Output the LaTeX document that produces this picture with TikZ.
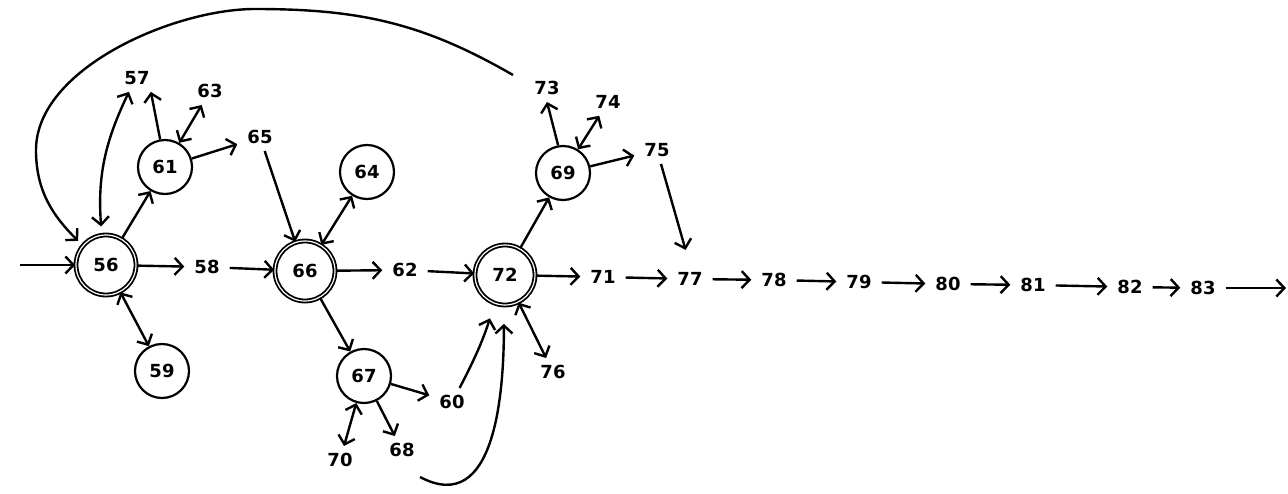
\documentclass[tikz,border=0pt]{standalone}
\usepackage{fontspec}
\setmainfont{DejaVu Sans}
\usetikzlibrary{arrows.meta}
\begin{document}
\begin{tikzpicture}[x=1pt,y=1pt, line width=2.4pt,
  font=\fontsize{18}{20}\selectfont\bfseries,
  circ/.style={circle,draw,line width=2.2pt,minimum size=54pt,inner sep=0pt},
  dcirc/.style={circle,draw,line width=1.8pt,double,double distance=1.2pt,minimum size=60pt,inner sep=0pt},
  lbl/.style={inner xsep=9pt,inner ysep=6pt},
  arr/.style={-{Straight Barb[length=8pt,width=17pt]}},
  arrb/.style={{Straight Barb[length=8pt,width=17pt]}-{Straight Barb[length=8pt,width=17pt]}}]
\fill[white] (0,0) rectangle (1288,-493);
\useasboundingbox (0,0) rectangle (1288,-493);
% nodes
\node[dcirc] (n56) at (106,-265) {56};
\node[circ] (n61) at (165,-167) {61};
\node[circ] (n59) at (162,-371) {59};
\node[lbl] (l57) at (137,-78) {57};
\node[lbl] (l63) at (210,-91) {63};
\node[lbl] (l65) at (260,-137) {65};
\node[lbl] (l58) at (207,-267) {58};
\node[dcirc] (n66) at (305,-271) {66};
\node[circ] (n64) at (367,-172) {64};
\node[lbl] (l62) at (405,-270) {62};
\node[circ] (n67) at (364,-376) {67};
\node[lbl] (l60) at (452,-402) {60};
\node[lbl] (l70) at (340,-460) {70};
\node[lbl] (l68) at (402,-450) {68};
\node[dcirc] (n72) at (505,-275) {72};
\node[circ] (n69) at (563,-173) {69};
\node[lbl] (l73) at (547,-88) {73};
\node[lbl] (l74) at (608,-102) {74};
\node[lbl] (l75) at (657,-150) {75};
\node[lbl] (l76) at (553,-372) {76};
\node[lbl] (l71) at (603,-277) {71};
\node[lbl] (l77) at (690,-279) {77};
\node[lbl] (l78) at (774,-280) {78};
\node[lbl] (l79) at (859,-282) {79};
\node[lbl] (l80) at (948,-284) {80};
\node[lbl] (l81) at (1033,-285) {81};
\node[lbl] (l82) at (1130,-287) {82};
\node[lbl] (l83) at (1203,-288) {83};
\coordinate (cin) at (20,-265);
\coordinate (cout) at (1286,-288);
\coordinate (c2) at (513,-75);
\coordinate (ctop) at (255,-9);
\coordinate (cleft) at (36,-150);
\coordinate (c1) at (420,-477);
% connectors
\draw[arr] (cin) -- (n56);
\draw[arr] (n56) -- (l58);
\draw[arr] (l58) -- (n66);
\draw[arrb, shorten <=8pt] (n56.98) to[bend left=15] (l57.240);
\draw[arr] (n61.100) -- (l57.-45);
\draw[arr] (n56) -- (n61);
\draw[arrb] (n61) -- (l63);
\draw[arr] (n61) -- (l65);
\draw[arr] (l65) -- (n66);
\draw[arrb] (n56) -- (n59);
\draw[arrb] (n64) -- (n66);
\draw[arr] (n66) -- (l62);
\draw[arr] (l62) -- (n72);
\draw[arr] (n66) -- (n67);
\draw[arr] (n67) -- (l60);
\draw[arr, shorten >=15pt] (l60) to[bend right=5] (n72.250);
\draw[arrb] (n67) -- (l70);
\draw[arr] (n67) -- (l68);
\draw[arr, shorten >=18pt] (c1) to[out=-28,in=-90,looseness=1.15] (n72.268);
\draw[arr, shorten >=6pt] (c2) to[out=150,in=0] (ctop) to[out=180,in=90,looseness=0.8] (cleft) to[out=-90,in=135] (n56.140);
\draw[arr] (n72) -- (n69);
\draw[arr] (n69.100) -- (l73.south);
\draw[arrb] (n69) -- (l74);
\draw[arr] (n69) -- (l75);
\draw[arr, shorten >=16pt] (l75) -- (l77.north);
\draw[arr] (n72) -- (l71);
\draw[arrb] (n72) -- (l76);
\draw[arr] (l71) -- (l77);
\draw[arr] (l77) -- (l78);
\draw[arr] (l78) -- (l79);
\draw[arr] (l79) -- (l80);
\draw[arr] (l80) -- (l81);
\draw[arr] (l81) -- (l82);
\draw[arr] (l82) -- (l83);
\draw[arr] (l83) -- (cout);
\end{tikzpicture}
\end{document}
